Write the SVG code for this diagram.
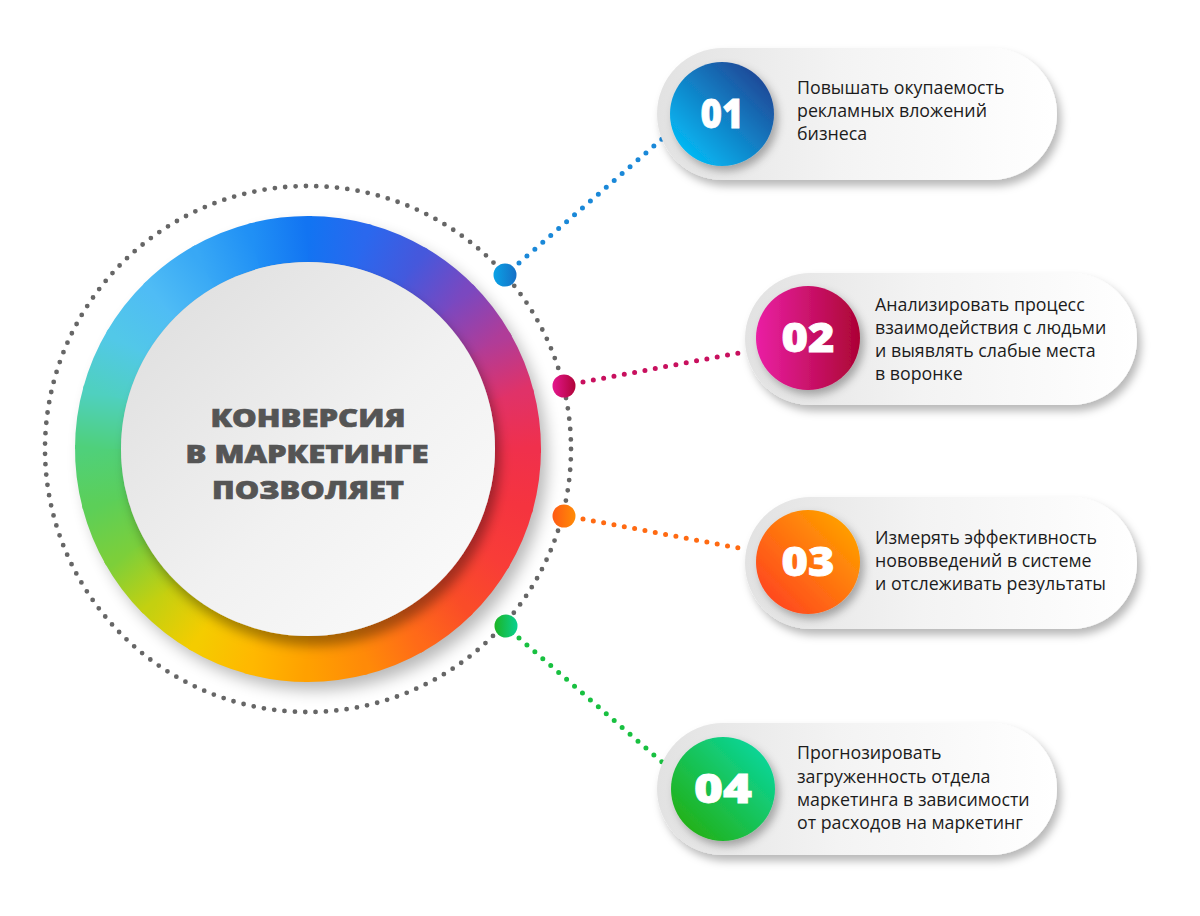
<svg xmlns="http://www.w3.org/2000/svg" xmlns:xlink="http://www.w3.org/1999/xlink" width="1200" height="916" viewBox="0 0 1200 916">
<style>
.body{font-family:"Open Sans","Liberation Sans",sans-serif;font-size:17.8px;fill:#1c1c1c}
.num{font-family:"Open Sans","Liberation Sans",sans-serif;font-weight:800;font-size:40px;fill:#fff;stroke:#fff;stroke-width:0.8;text-anchor:middle}
.title{font-family:"Open Sans","Liberation Sans",sans-serif;font-weight:800;font-size:25.5px;fill:#555;stroke:#555;stroke-width:0.7;text-anchor:middle}
.dotline{fill:none;stroke-width:5;stroke-linecap:round;stroke-dasharray:0 10.5}
.card{fill:url(#cardG);filter:url(#cardSh)}
</style>
<defs>
<path id="seg" d="M518 449 A210 210 0 0 1 509.86 506.88" fill="none" stroke-width="46"/>
<linearGradient id="g0" gradientUnits="userSpaceOnUse" x1="518" y1="449" x2="510.84" y2="503.35"><stop offset="0" stop-color="#f0304c"/><stop offset="1" stop-color="#f5343f"/></linearGradient>
<linearGradient id="g1" gradientUnits="userSpaceOnUse" x1="518" y1="449" x2="510.84" y2="503.35"><stop offset="0" stop-color="#f5343f"/><stop offset="1" stop-color="#f83c38"/></linearGradient>
<linearGradient id="g2" gradientUnits="userSpaceOnUse" x1="518" y1="449" x2="510.84" y2="503.35"><stop offset="0" stop-color="#f83c38"/><stop offset="1" stop-color="#fa4c28"/></linearGradient>
<linearGradient id="g3" gradientUnits="userSpaceOnUse" x1="518" y1="449" x2="510.84" y2="503.35"><stop offset="0" stop-color="#fa4c28"/><stop offset="1" stop-color="#ff6a18"/></linearGradient>
<linearGradient id="g4" gradientUnits="userSpaceOnUse" x1="518" y1="449" x2="510.84" y2="503.35"><stop offset="0" stop-color="#ff6a18"/><stop offset="1" stop-color="#ff8a08"/></linearGradient>
<linearGradient id="g5" gradientUnits="userSpaceOnUse" x1="518" y1="449" x2="510.84" y2="503.35"><stop offset="0" stop-color="#ff8a08"/><stop offset="1" stop-color="#ffa000"/></linearGradient>
<linearGradient id="g6" gradientUnits="userSpaceOnUse" x1="518" y1="449" x2="510.84" y2="503.35"><stop offset="0" stop-color="#ffa000"/><stop offset="1" stop-color="#ffb800"/></linearGradient>
<linearGradient id="g7" gradientUnits="userSpaceOnUse" x1="518" y1="449" x2="510.84" y2="503.35"><stop offset="0" stop-color="#ffb800"/><stop offset="1" stop-color="#f4cc00"/></linearGradient>
<linearGradient id="g8" gradientUnits="userSpaceOnUse" x1="518" y1="449" x2="510.84" y2="503.35"><stop offset="0" stop-color="#f4cc00"/><stop offset="1" stop-color="#c4d010"/></linearGradient>
<linearGradient id="g9" gradientUnits="userSpaceOnUse" x1="518" y1="449" x2="510.84" y2="503.35"><stop offset="0" stop-color="#c4d010"/><stop offset="1" stop-color="#7ccf3a"/></linearGradient>
<linearGradient id="g10" gradientUnits="userSpaceOnUse" x1="518" y1="449" x2="510.84" y2="503.35"><stop offset="0" stop-color="#7ccf3a"/><stop offset="1" stop-color="#5ccf58"/></linearGradient>
<linearGradient id="g11" gradientUnits="userSpaceOnUse" x1="518" y1="449" x2="510.84" y2="503.35"><stop offset="0" stop-color="#5ccf58"/><stop offset="1" stop-color="#4fd07a"/></linearGradient>
<linearGradient id="g12" gradientUnits="userSpaceOnUse" x1="518" y1="449" x2="510.84" y2="503.35"><stop offset="0" stop-color="#4fd07a"/><stop offset="1" stop-color="#4fd0c0"/></linearGradient>
<linearGradient id="g13" gradientUnits="userSpaceOnUse" x1="518" y1="449" x2="510.84" y2="503.35"><stop offset="0" stop-color="#4fd0c0"/><stop offset="1" stop-color="#52c8e8"/></linearGradient>
<linearGradient id="g14" gradientUnits="userSpaceOnUse" x1="518" y1="449" x2="510.84" y2="503.35"><stop offset="0" stop-color="#52c8e8"/><stop offset="1" stop-color="#4fbcf5"/></linearGradient>
<linearGradient id="g15" gradientUnits="userSpaceOnUse" x1="518" y1="449" x2="510.84" y2="503.35"><stop offset="0" stop-color="#4fbcf5"/><stop offset="1" stop-color="#38a8f5"/></linearGradient>
<linearGradient id="g16" gradientUnits="userSpaceOnUse" x1="518" y1="449" x2="510.84" y2="503.35"><stop offset="0" stop-color="#38a8f5"/><stop offset="1" stop-color="#2090f5"/></linearGradient>
<linearGradient id="g17" gradientUnits="userSpaceOnUse" x1="518" y1="449" x2="510.84" y2="503.35"><stop offset="0" stop-color="#2090f5"/><stop offset="1" stop-color="#1274f2"/></linearGradient>
<linearGradient id="g18" gradientUnits="userSpaceOnUse" x1="518" y1="449" x2="510.84" y2="503.35"><stop offset="0" stop-color="#1274f2"/><stop offset="1" stop-color="#2a68ee"/></linearGradient>
<linearGradient id="g19" gradientUnits="userSpaceOnUse" x1="518" y1="449" x2="510.84" y2="503.35"><stop offset="0" stop-color="#2a68ee"/><stop offset="1" stop-color="#4558dc"/></linearGradient>
<linearGradient id="g20" gradientUnits="userSpaceOnUse" x1="518" y1="449" x2="510.84" y2="503.35"><stop offset="0" stop-color="#4558dc"/><stop offset="1" stop-color="#7a48c0"/></linearGradient>
<linearGradient id="g21" gradientUnits="userSpaceOnUse" x1="518" y1="449" x2="510.84" y2="503.35"><stop offset="0" stop-color="#7a48c0"/><stop offset="1" stop-color="#b03c98"/></linearGradient>
<linearGradient id="g22" gradientUnits="userSpaceOnUse" x1="518" y1="449" x2="510.84" y2="503.35"><stop offset="0" stop-color="#b03c98"/><stop offset="1" stop-color="#e03268"/></linearGradient>
<linearGradient id="g23" gradientUnits="userSpaceOnUse" x1="518" y1="449" x2="510.84" y2="503.35"><stop offset="0" stop-color="#e03268"/><stop offset="1" stop-color="#f0304c"/></linearGradient>

<linearGradient id="innerG" x1="0" y1="0" x2="1" y2="1"><stop offset="0" stop-color="#dcdcdc"/><stop offset="0.55" stop-color="#f1f1f1"/><stop offset="1" stop-color="#fcfcfc"/></linearGradient>
<linearGradient id="cardG" x1="0" y1="0.5" x2="1" y2="0.5"><stop offset="0" stop-color="#e2e2e2"/><stop offset="0.45" stop-color="#f3f3f3"/><stop offset="1" stop-color="#ffffff"/></linearGradient>
<linearGradient id="c1" x1="0.15" y1="0.85" x2="0.85" y2="0.15"><stop offset="0" stop-color="#04b6f2"/><stop offset="1" stop-color="#1f4c9a"/></linearGradient>
<linearGradient id="c2" x1="0" y1="0.5" x2="1" y2="0.5"><stop offset="0" stop-color="#ea20a4"/><stop offset="1" stop-color="#ac0434"/></linearGradient>
<linearGradient id="c3" x1="0.15" y1="0.85" x2="0.85" y2="0.15"><stop offset="0" stop-color="#ff4a1e"/><stop offset="1" stop-color="#ff9c00"/></linearGradient>
<linearGradient id="c4" x1="0.15" y1="0.85" x2="0.85" y2="0.15"><stop offset="0" stop-color="#22b21c"/><stop offset="1" stop-color="#0cd494"/></linearGradient>
<linearGradient id="d1" x1="0" y1="0.5" x2="1" y2="0.5"><stop offset="0" stop-color="#0aa2e6"/><stop offset="1" stop-color="#1670c6"/></linearGradient>
<linearGradient id="d2" x1="0" y1="0.5" x2="1" y2="0.5"><stop offset="0" stop-color="#e4168e"/><stop offset="1" stop-color="#b00438"/></linearGradient>
<linearGradient id="d3" x1="0" y1="0.5" x2="1" y2="0.5"><stop offset="0" stop-color="#ff5a14"/><stop offset="1" stop-color="#ff8c06"/></linearGradient>
<linearGradient id="d4" x1="0" y1="0.5" x2="1" y2="0.5"><stop offset="0" stop-color="#1cb424"/><stop offset="1" stop-color="#0ad090"/></linearGradient>
<filter id="ringSh" x="-20%" y="-20%" width="140%" height="140%"><feGaussianBlur stdDeviation="8"/></filter>
<filter id="innerSh" x="-20%" y="-20%" width="140%" height="140%"><feDropShadow dx="5" dy="10" stdDeviation="6" flood-color="#000" flood-opacity="0.35"/></filter>
<filter id="cardSh" x="-10%" y="-20%" width="125%" height="150%"><feDropShadow dx="4" dy="6" stdDeviation="4" flood-color="#000" flood-opacity="0.28"/></filter>
<filter id="numSh" x="-30%" y="-30%" width="160%" height="160%"><feDropShadow dx="4" dy="5" stdDeviation="4" flood-color="#000" flood-opacity="0.3"/></filter>
</defs>

<rect width="1200" height="916" fill="#ffffff"/>

<g id="center">
<circle cx="308" cy="449" r="263" fill="none" stroke="#666" stroke-width="4.8" stroke-linecap="round" stroke-dasharray="0 10.393"/>
<circle cx="315" cy="458" r="232" fill="#000" opacity="0.28" filter="url(#ringSh)"/>
<g id="ring">
<use href="#seg" stroke="url(#g0)"/>
<use href="#seg" stroke="url(#g1)" transform="rotate(15 308 449)"/>
<use href="#seg" stroke="url(#g2)" transform="rotate(30 308 449)"/>
<use href="#seg" stroke="url(#g3)" transform="rotate(45 308 449)"/>
<use href="#seg" stroke="url(#g4)" transform="rotate(60 308 449)"/>
<use href="#seg" stroke="url(#g5)" transform="rotate(75 308 449)"/>
<use href="#seg" stroke="url(#g6)" transform="rotate(90 308 449)"/>
<use href="#seg" stroke="url(#g7)" transform="rotate(105 308 449)"/>
<use href="#seg" stroke="url(#g8)" transform="rotate(120 308 449)"/>
<use href="#seg" stroke="url(#g9)" transform="rotate(135 308 449)"/>
<use href="#seg" stroke="url(#g10)" transform="rotate(150 308 449)"/>
<use href="#seg" stroke="url(#g11)" transform="rotate(165 308 449)"/>
<use href="#seg" stroke="url(#g12)" transform="rotate(180 308 449)"/>
<use href="#seg" stroke="url(#g13)" transform="rotate(195 308 449)"/>
<use href="#seg" stroke="url(#g14)" transform="rotate(210 308 449)"/>
<use href="#seg" stroke="url(#g15)" transform="rotate(225 308 449)"/>
<use href="#seg" stroke="url(#g16)" transform="rotate(240 308 449)"/>
<use href="#seg" stroke="url(#g17)" transform="rotate(255 308 449)"/>
<use href="#seg" stroke="url(#g18)" transform="rotate(270 308 449)"/>
<use href="#seg" stroke="url(#g19)" transform="rotate(285 308 449)"/>
<use href="#seg" stroke="url(#g20)" transform="rotate(300 308 449)"/>
<use href="#seg" stroke="url(#g21)" transform="rotate(315 308 449)"/>
<use href="#seg" stroke="url(#g22)" transform="rotate(330 308 449)"/>
<use href="#seg" stroke="url(#g23)" transform="rotate(345 308 449)"/>
</g>
<circle cx="308" cy="449" r="187" fill="url(#innerG)" filter="url(#innerSh)"/>
<text class="title" x="308" y="427" textLength="195" lengthAdjust="spacingAndGlyphs">КОНВЕРСИЯ</text>
<text class="title" x="307" y="463" textLength="243" lengthAdjust="spacingAndGlyphs">В МАРКЕТИНГЕ</text>
<text class="title" x="308" y="499" textLength="192" lengthAdjust="spacingAndGlyphs">ПОЗВОЛЯЕТ</text>
</g>

<g id="connectors">
<line class="dotline" x1="519" y1="263" x2="662" y2="139" stroke="#1a88d8"/>
<line class="dotline" x1="583" y1="382" x2="744" y2="352" stroke="#c8105e"/>
<line class="dotline" x1="583" y1="519" x2="744" y2="549" stroke="#ff6a12"/>
<line class="dotline" x1="519" y1="638" x2="662" y2="762" stroke="#18c040"/>
<circle cx="505" cy="275" r="11.5" fill="url(#d1)"/>
<circle cx="564" cy="386" r="11.5" fill="url(#d2)"/>
<circle cx="564" cy="516" r="11.5" fill="url(#d3)"/>
<circle cx="506" cy="626" r="11.5" fill="url(#d4)"/>
</g>

<g id="card1">
<rect class="card" x="657" y="48" width="400" height="132" rx="66"/>
<circle cx="722" cy="114" r="52" fill="url(#c1)" filter="url(#numSh)"/>
<text class="num" x="722" y="128" textLength="43" lengthAdjust="spacingAndGlyphs">01</text>
<text class="body" x="797" y="94">Повышать окупаемость</text>
<text class="body" x="797" y="117">рекламных вложений</text>
<text class="body" x="797" y="140">бизнеса</text>
</g>

<g id="card2">
<rect class="card" x="745" y="273" width="392" height="132" rx="66"/>
<circle cx="808" cy="338" r="52" fill="url(#c2)" filter="url(#numSh)"/>
<text class="num" x="808" y="352" textLength="53" lengthAdjust="spacingAndGlyphs">02</text>
<text class="body" x="875" y="311">Анализировать процесс</text>
<text class="body" x="875" y="334">взаимодействия с людьми</text>
<text class="body" x="875" y="357">и выявлять слабые места</text>
<text class="body" x="875" y="380">в воронке</text>
</g>

<g id="card3">
<rect class="card" x="745" y="497" width="392" height="132" rx="66"/>
<circle cx="808" cy="562" r="52" fill="url(#c3)" filter="url(#numSh)"/>
<text class="num" x="808" y="576" textLength="53" lengthAdjust="spacingAndGlyphs">03</text>
<text class="body" x="875" y="544">Измерять эффективность</text>
<text class="body" x="875" y="567">нововведений в системе</text>
<text class="body" x="875" y="590">и отслеживать результаты</text>
</g>

<g id="card4">
<rect class="card" x="657" y="723" width="400" height="132" rx="66"/>
<circle cx="723" cy="789" r="52" fill="url(#c4)" filter="url(#numSh)"/>
<text class="num" x="723" y="803" textLength="58" lengthAdjust="spacingAndGlyphs">04</text>
<text class="body" x="797" y="759">Прогнозировать</text>
<text class="body" x="797" y="783">загруженность отдела</text>
<text class="body" x="797" y="806">маркетинга в зависимости</text>
<text class="body" x="797" y="829">от расходов на маркетинг</text>
</g>
</svg>
